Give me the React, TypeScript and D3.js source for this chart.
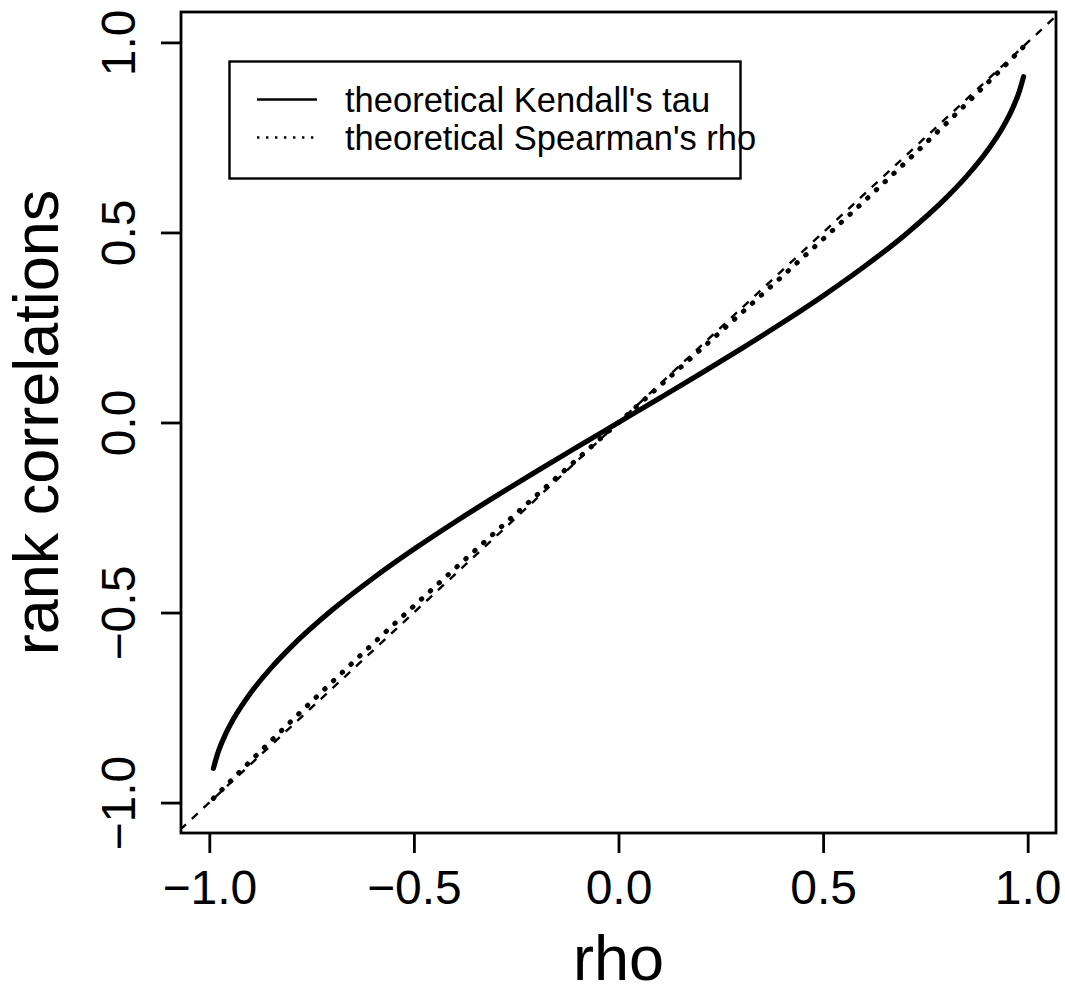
import React, { useEffect, useRef } from 'react';
import * as d3 from 'd3';

const rhoGrid = [-0.99, -0.98, -0.96, -0.94, -0.9, -0.85, -0.8, -0.7, -0.6, -0.5, -0.4, -0.3, -0.2, -0.1, 0,
  0.1, 0.2, 0.3, 0.4, 0.5, 0.6, 0.7, 0.8, 0.85, 0.9, 0.94, 0.96, 0.98, 0.99];
const kendallTau = [-0.9099, -0.8724, -0.8193, -0.7783, -0.7129, -0.6468, -0.5903, -0.4936, -0.4097, -0.3333, -0.262, -0.194, -0.1282, -0.0638, 0,
  0.0638, 0.1282, 0.194, 0.262, 0.3333, 0.4097, 0.4936, 0.5903, 0.6468, 0.7129, 0.7783, 0.8193, 0.8724, 0.9099];
const spearmanRho = [-0.9889, -0.978, -0.9562, -0.9344, -0.8915, -0.8384, -0.7859, -0.6829, -0.5819, -0.4826, -0.3846, -0.2876, -0.1913, -0.0955, 0,
  0.0955, 0.1913, 0.2876, 0.3846, 0.4826, 0.5819, 0.6829, 0.7859, 0.8384, 0.8915, 0.9344, 0.9562, 0.978, 0.9889];
const xTicks = [-1, -0.5, 0, 0.5, 1];
const yTicks = [-1, -0.5, 0, 0.5, 1];
const legendLabels = ["theoretical Kendall's tau", "theoretical Spearman's rho"];

const W = 1065, H = 988;
const plot = { left: 181, right: 1056, top: 12, bottom: 833 };
const FONT = '"Liberation Sans", Arial, Helvetica, sans-serif';

export default function App() {
  const svgRef = useRef<SVGSVGElement | null>(null);

  useEffect(() => {
    const svg = d3.select(svgRef.current);
    svg.selectAll('*').remove();

    const x = d3.scaleLinear().domain([-1.0692, 1.0692]).range([plot.left, plot.right]);
    const y = d3.scaleLinear().domain([-1.08, 1.08]).range([plot.bottom, plot.top]);
    const fmt = d3.format('.1f');

    svg.append('defs').append('clipPath').attr('id', 'plotclip')
      .append('rect')
      .attr('x', plot.left).attr('y', plot.top)
      .attr('width', plot.right - plot.left).attr('height', plot.bottom - plot.top);

    const g = svg.append('g').attr('clip-path', 'url(#plotclip)');

    const line = d3.line<[number, number]>()
      .x(d => x(d[0]))
      .y(d => y(d[1]))
      .curve(d3.curveMonotoneX);

    // diagonal reference line
    g.append('line')
      .attr('x1', x(-1.1)).attr('y1', y(-1.1))
      .attr('x2', x(1.1)).attr('y2', y(1.1))
      .attr('stroke', '#000').attr('stroke-width', 2.4)
      .attr('stroke-dasharray', '8,8');

    g.append('path')
      .datum(rhoGrid.map((r, i) => [r, spearmanRho[i]] as [number, number]))
      .attr('d', line)
      .attr('fill', 'none').attr('stroke', '#000').attr('stroke-width', 5)
      .attr('stroke-linecap', 'round')
      .attr('stroke-dasharray', '0.5,11.5');

    g.append('path')
      .datum(rhoGrid.map((r, i) => [r, kendallTau[i]] as [number, number]))
      .attr('d', line)
      .attr('fill', 'none').attr('stroke', '#000').attr('stroke-width', 5.2)
      .attr('stroke-linecap', 'round');

    // box
    svg.append('rect')
      .attr('x', plot.left).attr('y', plot.top)
      .attr('width', plot.right - plot.left).attr('height', plot.bottom - plot.top)
      .attr('fill', 'none').attr('stroke', '#000').attr('stroke-width', 2.8);

    // x axis
    const xAxis = svg.append('g')
      .attr('transform', 'translate(0,' + plot.bottom + ')')
      .call(d3.axisBottom(x).tickValues(xTicks).tickFormat(d => fmt(d as number)).tickSize(20).tickSizeOuter(0));
    xAxis.select('.domain').remove();
    xAxis.selectAll('line').attr('stroke', '#000').attr('stroke-width', 2.8);
    xAxis.selectAll('text')
      .attr('y', 71).attr('dy', 0)
      .attr('font-family', FONT).attr('font-size', 48).attr('fill', '#000');

    // y axis
    const yAxis = svg.append('g')
      .attr('transform', 'translate(' + plot.left + ',0)')
      .call(d3.axisLeft(y).tickValues(yTicks).tickFormat(d => fmt(d as number)).tickSize(20).tickSizeOuter(0));
    yAxis.select('.domain').remove();
    yAxis.selectAll('line').attr('stroke', '#000').attr('stroke-width', 2.8);
    yAxis.selectAll('text')
      .attr('x', 0).attr('y', 0).attr('dy', 0)
      .attr('transform', 'translate(-46,0) rotate(-90)')
      .attr('text-anchor', 'middle')
      .attr('font-family', FONT).attr('font-size', 48).attr('fill', '#000');

    // axis titles
    svg.append('text')
      .attr('x', (plot.left + plot.right) / 2).attr('y', 980)
      .attr('text-anchor', 'middle')
      .attr('font-family', FONT).attr('font-size', 63)
      .text('rho');
    svg.append('text')
      .attr('transform', 'translate(58,' + (plot.top + plot.bottom) / 2 + ') rotate(-90)')
      .attr('text-anchor', 'middle')
      .attr('font-family', FONT).attr('font-size', 63)
      .text('rank correlations');

    // legend
    const leg = svg.append('g');
    leg.append('rect')
      .attr('x', 229.5).attr('y', 61.5).attr('width', 511).attr('height', 117)
      .attr('fill', '#fff').attr('stroke', '#000').attr('stroke-width', 2.4);
    const rowY = [99.5, 137.5];
    const dash = ['none', '2.4,6.6'];
    legendLabels.forEach((lab, i) => {
      leg.append('line')
        .attr('x1', 257).attr('x2', 317).attr('y1', rowY[i]).attr('y2', rowY[i])
        .attr('stroke', '#000').attr('stroke-width', 2.4)
        .attr('stroke-dasharray', dash[i]);
      leg.append('text')
        .attr('x', 345).attr('y', rowY[i]).attr('dy', '0.36em')
        .attr('font-family', FONT).attr('font-size', 34.5)
        .text(lab);
    });
  }, []);

  return (
    <svg ref={svgRef} width={W} height={H} style={{ display: 'block', position: 'absolute', left: 0, top: 0, background: '#fff' }} />
  );
}
